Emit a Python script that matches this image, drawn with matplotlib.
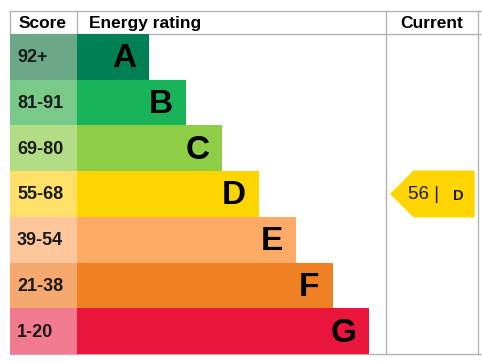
import matplotlib.pyplot as plt
from matplotlib.patches import Polygon

# EPC bands, top (best) to bottom
bands = ["A", "B", "C", "D", "E", "F", "G"]
score_ranges = ["92+", "81-91", "69-80", "55-68", "39-54", "21-38", "1-20"]
bar_colors = ["#008054", "#19b459", "#8dce46", "#ffd500", "#fcaa65", "#ef8023", "#e9153b"]
score_colors = ["#6aa887", "#79c98b", "#b2dc86", "#ffe068", "#fdc69b", "#f6a96e", "#f27a8e"]
current_score = 56
current_band = "D"

plt.rcParams['font.family'] = ['Liberation Sans', 'DejaVu Sans']

fig = plt.figure(figsize=(4.82, 3.62), dpi=100)
ax = fig.add_axes([0, 0, 1, 1])
ax.set_xlim(0, 482)
ax.set_ylim(362, 0)
ax.axis('off')

# layout (pixels)
left, score_w = 10, 67
top, head_h, row_h = 11, 23, 45.7
bar_start, bar_w0, bar_step = 77, 72, 36.7
col_cur, right = 386, 478
grid = "#b4b4b4"

y_first = top + head_h
rows = [y_first + row_h * (i + 0.5) for i in range(len(bands))]
bottom = y_first + row_h * len(bands)

# score column and coloured bars
ax.barh(rows, score_w, left=left, height=row_h, color=score_colors, zorder=2)
widths = [bar_w0 + bar_step * i for i in range(len(bands))]
ax.barh(rows, widths, left=bar_start, height=row_h, color=bar_colors, zorder=2)

for y, s, b, w in zip(rows, score_ranges, bands, widths):
    ax.text(left + 7, y + 1, s, ha='left', va='center', fontsize=13,
            fontweight='bold', color='#1a1a1a', zorder=3)
    ax.text(bar_start + w - 13, y + 2, b, ha='right', va='center', fontsize=24,
            fontweight='bold', color='black', zorder=3)

# table lines
ax.plot([left, 482], [top, top], color=grid, lw=1, zorder=1)
ax.plot([left, 482], [y_first, y_first], color=grid, lw=1, zorder=1)
ax.plot([left, 482], [bottom, bottom], color=grid, lw=1, zorder=1)
for x in [left, bar_start]:
    ax.plot([x, x], [top, y_first], color=grid, lw=1, zorder=1)
for x in [col_cur, right]:
    ax.plot([x, x], [top, bottom], color=grid, lw=1, zorder=1)

# headers
hy = top + head_h / 2 + 1
ax.text(left + 33, hy, "Score", ha='center', va='center', fontsize=12.5, fontweight='bold')
ax.text(bar_start + 12, hy, "Energy rating", ha='left', va='center', fontsize=12.5, fontweight='bold')
ax.text((col_cur + right) / 2, hy, "Current", ha='center', va='center', fontsize=12.5, fontweight='bold')

# current rating arrow
ci = bands.index(current_band)
cy = rows[ci]
half = row_h / 2
tip_x, body_x, end_x = 391, 414, 474
arrow = Polygon([(tip_x, cy), (body_x, cy - half), (end_x, cy - half),
                 (end_x, cy + half), (body_x, cy + half)],
                closed=True, color=bar_colors[ci], zorder=2)
ax.add_patch(arrow)
ax.text(424, cy + 1, f"{current_score} |", ha='center', va='center', fontsize=13.5,
        color='#1a1a1a', zorder=3)
ax.text(458, cy + 2, current_band, ha='center', va='center', fontsize=10.5,
        fontweight='bold', color='#1a1a1a', zorder=3)

fig.savefig("out.png", dpi=100)
